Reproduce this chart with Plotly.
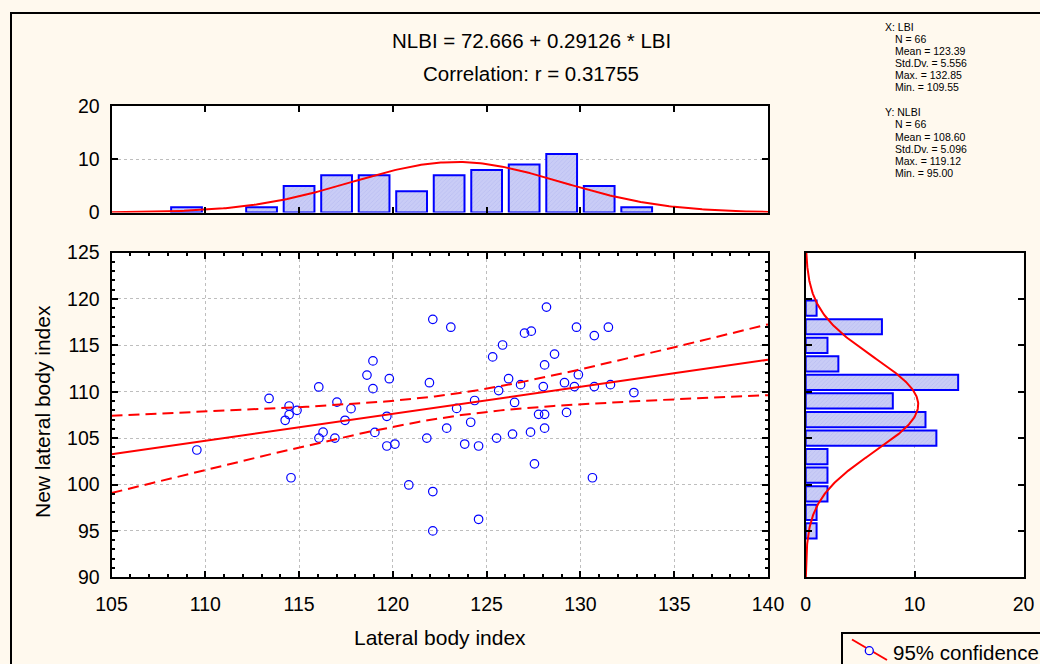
import numpy as np
import plotly.graph_objects as go

# ---------------- data ----------------
lbi = [122.13, 118.94, 118.62, 119.81, 121.95, 116.05, 118.94, 113.40, 117.02, 114.47,
       117.77, 114.89, 114.47, 119.68, 114.26, 117.45, 116.28, 119.04, 116.06, 116.91,
       121.81, 119.68, 120.11, 109.55, 114.57, 120.85, 122.13, 122.13, 123.09, 128.19,
       127.02, 127.38, 129.79, 131.49, 130.74, 125.85, 125.32, 128.62, 128.09, 129.89,
       126.17, 129.15, 126.81, 128.02, 129.68, 130.74, 131.60, 132.85, 125.64, 124.36,
       123.40, 126.49, 127.77, 128.09, 129.26, 124.15, 122.87, 128.09, 126.38, 127.34,
       125.53, 123.83, 124.57, 127.55, 130.64, 124.57]
nlbi = [117.80, 113.32, 111.79, 111.40, 110.97, 110.51, 110.33, 109.27, 108.88, 108.46,
        108.17, 107.99, 107.53, 107.35, 106.92, 106.92, 105.64, 105.61, 105.00, 105.00,
        105.00, 104.15, 104.36, 103.72, 100.73, 99.95, 99.24, 95.00, 116.95, 119.12,
        116.31, 116.52, 116.95, 116.95, 116.05, 115.03, 113.75, 114.05, 112.89, 111.83,
        111.40, 110.97, 110.76, 110.55, 110.55, 110.55, 110.76, 109.91, 110.12, 109.05,
        108.20, 108.84, 107.56, 107.56, 107.77, 106.71, 106.07, 106.07, 105.43, 105.64,
        105.00, 104.36, 104.15, 102.23, 100.73, 96.25]

intercept = 72.666
slope = 0.29126
corr_r = 0.31755
x_stats = {"N": 66, "Mean": 123.39, "Std": 5.556, "Max": 132.85, "Min": 109.55}
y_stats = {"N": 66, "Mean": 108.60, "Std": 5.096, "Max": 119.12, "Min": 95.00}
bin_width = 2
t_crit = 1.9977  # t(0.975, df=64)

# ---------------- derived ----------------
W, H = 1040, 664
def px(x):
    return x / W
def py(y):
    return 1 - y / H

xa = np.array(lbi)
ya = np.array(nlbi)
n = len(xa)
xg = np.linspace(105, 140, 200)
yfit = intercept + slope * xg
resid = ya - (intercept + slope * xa)
s_err = np.sqrt(np.sum(resid ** 2) / (n - 2))
sxx = np.sum((xa - xa.mean()) ** 2)
half = t_crit * s_err * np.sqrt(1 / n + (xg - xa.mean()) ** 2 / sxx)

def normal_counts(g, m, s):
    return n * bin_width * np.exp(-0.5 * ((g - m) / s) ** 2) / (s * np.sqrt(2 * np.pi))

xcurve = np.linspace(105, 140, 300)
ycurve = np.linspace(90, 125, 300)

RED = "#FF0000"
BLUE = "#0000FF"
BARFILL = "#C9CCF6"
BG = "#FFF9EE"
FONT = "Liberation Sans, Arial, sans-serif"

fig = go.Figure()

# scatter
fig.add_trace(go.Scatter(x=lbi, y=nlbi, mode="markers",
                         marker=dict(symbol="circle-open", size=8.5, color=BLUE, line=dict(width=1.2, color=BLUE)),
                         xaxis="x", yaxis="y", showlegend=False))
fig.add_trace(go.Scatter(x=xg, y=yfit, mode="lines", line=dict(color=RED, width=2),
                         xaxis="x", yaxis="y", showlegend=False))
fig.add_trace(go.Scatter(x=xg, y=yfit + half, mode="lines", line=dict(color=RED, width=2, dash="11px,6px"),
                         xaxis="x", yaxis="y", showlegend=False))
fig.add_trace(go.Scatter(x=xg, y=yfit - half, mode="lines", line=dict(color=RED, width=2, dash="11px,6px"),
                         xaxis="x", yaxis="y", showlegend=False))

# top histogram
fig.add_trace(go.Histogram(x=lbi, xbins=dict(start=108, end=134, size=bin_width),
                           marker=dict(color=BARFILL, line=dict(color=BLUE, width=2),
                                       pattern=dict(shape="/", fgcolor="#A9ADEE", size=3, solidity=0.25)),
                           xaxis="x2", yaxis="y2", showlegend=False))
fig.add_trace(go.Scatter(x=xcurve, y=normal_counts(xcurve, x_stats["Mean"], x_stats["Std"]), mode="lines",
                         line=dict(color=RED, width=2), xaxis="x2", yaxis="y2", showlegend=False))

# right histogram
fig.add_trace(go.Histogram(y=nlbi, ybins=dict(start=94, end=120, size=bin_width), orientation="h",
                           marker=dict(color=BARFILL, line=dict(color=BLUE, width=2),
                                       pattern=dict(shape="/", fgcolor="#A9ADEE", size=3, solidity=0.25)),
                           xaxis="x3", yaxis="y3", showlegend=False))
fig.add_trace(go.Scatter(x=normal_counts(ycurve, y_stats["Mean"], y_stats["Std"]), y=ycurve, mode="lines",
                         line=dict(color=RED, width=2), xaxis="x3", yaxis="y3", showlegend=False))

sc_x = [px(111.5), px(768)]
sc_y = [py(577.3), py(252.5)]
th_y = [py(212.5), py(106)]
rh_x = [px(805.7), px(1023.5)]

axis_common = dict(showline=True, linecolor="black", linewidth=2, mirror="allticks",
                   ticks="inside", tickcolor="black", ticklen=6, tickwidth=1.5,
                   tickfont=dict(family=FONT, size=19.5, color="black"),
                   zeroline=False, fixedrange=True, automargin=False)
grid = dict(showgrid=True, gridcolor="#BEBEBE", griddash="dot", gridwidth=1)

fig.update_layout(
    width=W, height=H,
    margin=dict(l=0, r=0, t=0, b=0, pad=0, autoexpand=False),
    paper_bgcolor=BG,
    plot_bgcolor="white",
    bargap=0.18,
    xaxis=dict(domain=sc_x, range=[105, 140], dtick=5, anchor="y",
               minor=dict(ticks="inside", dtick=1, ticklen=3, tickcolor="black", showgrid=False),
               ticklabelstandoff=8, **grid, **axis_common),
    yaxis=dict(domain=sc_y, range=[90, 125], dtick=5, anchor="x",
               minor=dict(ticks="inside", dtick=1, ticklen=3, tickcolor="black", showgrid=False),
               ticklabelstandoff=6, **grid, **axis_common),
    xaxis2=dict(domain=sc_x, range=[105, 140], dtick=5, anchor="y2", showticklabels=False,
                showgrid=False, **axis_common),
    yaxis2=dict(domain=th_y, range=[0, 20], dtick=10, anchor="x2", ticklabelstandoff=6,
                **grid, **axis_common),
    xaxis3=dict(domain=rh_x, range=[0, 20], dtick=10, anchor="y3", ticklabelstandoff=8,
                **grid, **axis_common),
    yaxis3=dict(domain=sc_y, range=[90, 125], dtick=5, anchor="x3", showticklabels=False,
                showgrid=False, **axis_common),
)

annotations = [
    dict(x=px(531), y=py(41), text=f"NLBI = {intercept} + {slope} * LBI", font=dict(size=20.5)),
    dict(x=px(531), y=py(73), text=f"Correlation: r = {corr_r}", font=dict(size=20.5)),
    dict(x=px(440), y=py(637), text="Lateral body index", font=dict(size=21)),
    dict(x=px(42), y=py(412), text="New lateral body index", font=dict(size=21), textangle=-90),
    dict(x=px(891), y=py(652), text="95% confidence", font=dict(size=20.5), xanchor="left"),
]
for a in annotations:
    a.update(xref="paper", yref="paper", showarrow=False)
    a.setdefault("xanchor", "center")
    a["yanchor"] = "middle"
    a["font"].update(family=FONT, color="black")
fig.update_layout(annotations=annotations)

def stats_lines(label, st, y0):
    rows = [(883.3, label), (893.3, f"N = {st['N']}"), (893.3, f"Mean = {st['Mean']:.2f}"),
            (893.3, f"Std.Dv. = {st['Std']:.3f}"), (893.3, f"Max. = {st['Max']:.2f}"),
            (893.3, f"Min. = {st['Min']:.2f}")]
    for i, (xx, txt) in enumerate(rows):
        fig.add_annotation(x=px(xx), y=py(y0 + i * 12.15), xref="paper", yref="paper", text=txt,
                           showarrow=False, xanchor="left", yanchor="middle",
                           font=dict(family=FONT, size=10.5, color="black"))

stats_lines("X: LBI", x_stats, 26.7)
stats_lines("Y: NLBI", y_stats, 112.3)

shapes = [
    dict(type="rect", xref="paper", yref="paper", x0=px(11), y0=py(700), x1=px(1100), y1=py(13),
         line=dict(color="black", width=2), fillcolor="rgba(0,0,0,0)", layer="below"),
    dict(type="rect", xref="paper", yref="paper", x0=px(842), y0=py(700), x1=px(1100), y1=py(633),
         line=dict(color="black", width=2), fillcolor="rgba(0,0,0,0)"),
    dict(type="line", xref="paper", yref="paper", x0=px(852), y0=py(639.5), x1=px(887), y1=py(660),
         line=dict(color=RED, width=2)),
    dict(type="circle", xref="paper", yref="paper", x0=px(865.3), y0=py(646.7), x1=px(873.3), y1=py(654.7),
         line=dict(color=BLUE, width=1.3), fillcolor=BG),
]
fig.update_layout(shapes=shapes)

fig.write_html(
    "out.html",
    config={"displayModeBar": False},
    post_script="document.body.style.margin='0';document.body.style.padding='0';"
                "document.body.style.overflow='hidden';document.documentElement.style.overflow='hidden';",
)
